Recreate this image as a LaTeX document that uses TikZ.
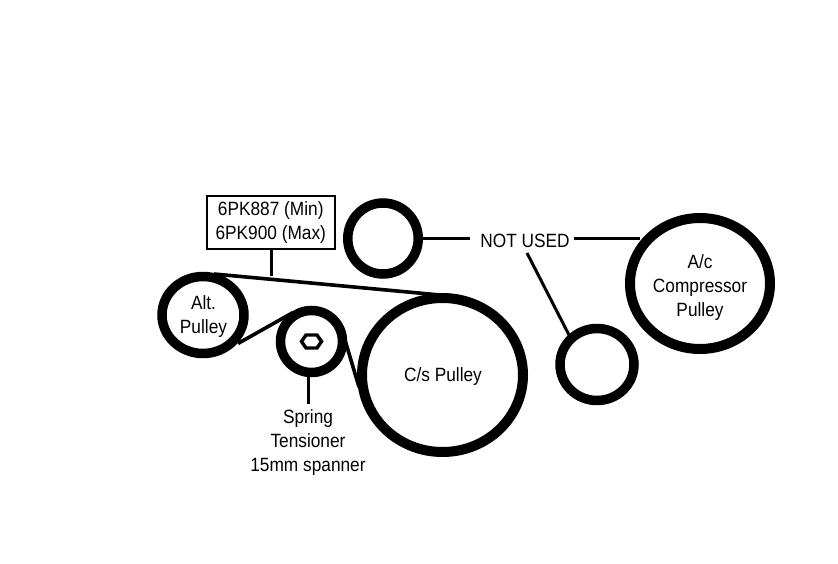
\documentclass[tikz,border=0pt]{standalone}
\usepackage{fontspec}
\setmainfont[FakeStretch=0.9]{Liberation Sans}
\usetikzlibrary{shapes.geometric}
\tikzset{
  pulley/.style={draw=black,ellipse,inner sep=0pt,outer sep=0pt,line width=#1},
  pulley/.default=9.5pt,
  lead/.style={draw=black,line width=3pt},
  belt/.style={draw=black,line width=3.6pt},
  lbl/.style={inner sep=0pt,outer sep=0pt,align=center,font=\lbl}
}
\newcommand{\lbl}{\fontsize{19.2}{24}\selectfont}
\begin{document}
\begin{tikzpicture}[x=1pt,y=-1pt]
\useasboundingbox (0,0) rectangle (838,564);
\fill[white] (0,0) rectangle (838,564);
\node[pulley,minimum width=82pt,minimum height=77pt] (alt) at (203,315) {};
\node[lbl] (altText) at (203.5,317) {Alt.\\Pulley};
\node[pulley,minimum width=62pt,minimum height=62pt] (tens) at (311.5,341.5) {};
\node[pulley=10pt,minimum width=161pt,minimum height=154pt] (cs) at (442.5,375) {};
\node[lbl] (csText) at (443,376.5) {C/s Pulley};
\node[pulley,minimum width=70.5pt,minimum height=71pt] (idlerA) at (383,238.5) {};
\node[pulley,minimum width=74pt,minimum height=72pt] (idlerB) at (597,364.5) {};
\node[pulley=10pt,minimum width=140pt,minimum height=131pt] (ac) at (700,283.5) {};
\node[lbl] (acText) at (700,287.5) {A/c\\Compressor\\Pulley};
% belts
\coordinate (b1) at (214,274);
\coordinate (b2) at (440,295);
\coordinate (b3) at (238,343.5);
\coordinate (b4) at (293,312.5);
\coordinate (b5) at (342,330);
\coordinate (b6) at (359,387);
\draw[belt] (b1) -- (b2);
\draw[belt] (b3) -- (b4);
\draw[belt] (b5) -- (b6);
% hex bolt
\draw[black,line width=3.4pt,line join=miter] (301.5,341.5) -- (306,335) -- (317,335) -- (321.5,341.5) -- (317,348) -- (306,348) -- cycle;
% spec box
\node[draw=black,line width=2pt,inner sep=0pt,minimum width=128.5pt,minimum height=53.5pt,lbl] (spec) at (270.75,222.75) {6PK887 (Min)\\6PK900 (Max)};
\coordinate (specEnd) at (271,276);
\draw[lead] (spec.south -| specEnd) -- (specEnd);
% tensioner label
\node[lbl] (tlabel) at (308,443) {Spring\\Tensioner\\15mm spanner};
\coordinate (tTop) at (308,376);
\coordinate (tBot) at (308,404);
\draw[lead] (tTop) -- (tBot);
% not used
\node[lbl] (nu) at (525,241) {NOT USED};
\coordinate (nuL) at (470,239);
\coordinate (nuR) at (574,239);
\coordinate (nuB) at (527,253);
\coordinate (iaE) at (422,239);
\coordinate (acW) at (640,239);
\coordinate (ibN) at (569,335);
\draw[lead] (iaE) -- (nuL);
\draw[lead] (nuR) -- (acW);
\draw[lead] (nuB) -- (ibN);
\end{tikzpicture}
\end{document}
